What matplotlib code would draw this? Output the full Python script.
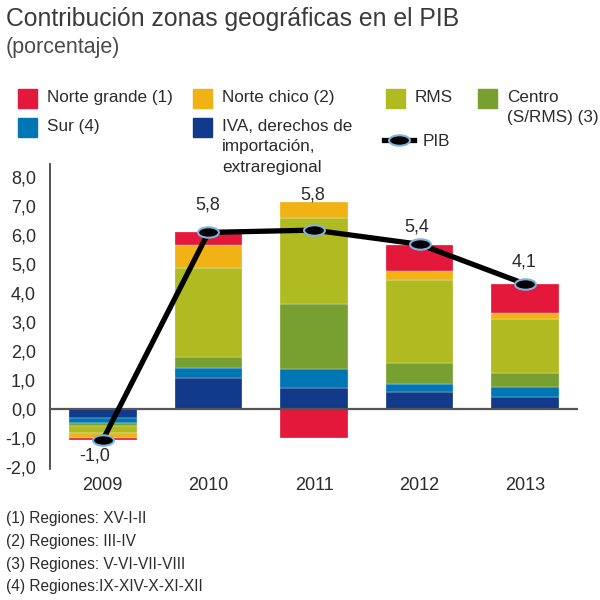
import matplotlib
matplotlib.use("Agg")
import matplotlib.pyplot as plt
import numpy as np
from matplotlib.patches import Rectangle
from matplotlib.path import Path
from matplotlib.lines import Line2D

plt.rcParams["font.family"] = ["Liberation Sans Narrow", "Liberation Sans", "DejaVu Sans"]

# ---- data ----
years = ["2009", "2010", "2011", "2012", "2013"]
iva = [-0.31, 1.08, 0.73, 0.57, 0.42]
sur = [-0.16, 0.34, 0.65, 0.29, 0.35]
centro = [-0.13, 0.38, 2.23, 0.74, 0.46]
rms = [-0.23, 3.07, 2.99, 2.85, 1.86]
norte_chico = [-0.18, 0.79, 0.55, 0.30, 0.22]
norte_grande = [-0.07, 0.43, -0.99, 0.92, 1.00]
pib = [-1.0, 5.8, 5.8, 5.4, 4.1]            # labelled values
pib_line = [-1.07, 6.09, 6.17, 5.68, 4.31]  # where the line is drawn

series = [
    ("IVA", iva, "#123a8a"),
    ("Sur", sur, "#0077b4"),
    ("Centro", centro, "#78a030"),
    ("RMS", rms, "#b0bb22"),
    ("Norte chico", norte_chico, "#f0b214"),
    ("Norte grande", norte_grande, "#e3183a"),
]

TXT = "#2b2b2b"
fig = plt.figure(figsize=(6, 6), dpi=100)
ax = fig.add_axes([50 / 600, 131 / 600, 528 / 600, 305 / 600])
ax.set_facecolor("none")

x = np.arange(len(years))
pos = np.zeros(len(years))
neg = np.zeros(len(years))
for name, vals, col in series:
    v = np.array(vals)
    bottom = np.where(v >= 0, pos, neg)
    ax.bar(x, v, 0.64, bottom=bottom, color=col, edgecolor="white", linewidth=0.2, zorder=2)
    pos = pos + np.where(v >= 0, v, 0)
    neg = neg + np.where(v < 0, v, 0)

ax.axhline(0, color="#555555", lw=1.6, zorder=3)

# ellipse marker
ell = Path.unit_circle()
ell = Path(ell.vertices * np.array([1.0, 0.5]), ell.codes)
ax.plot(x, pib_line, color="black", lw=3.8, zorder=4,
        marker=ell, markersize=15, markerfacecolor="black",
        markeredgecolor="#7fb2e0", markeredgewidth=1.5)

offsets = [(-8, -16), (-1, 27), (-1, 35), (-3, 17), (-1, 22)]
for xi, yi, val, off in zip(x, pib_line, pib, offsets):
    ax.annotate(f"{val:.1f}".replace(".", ","), (xi, yi), xytext=off,
                textcoords="offset pixels", ha="center", va="center",
                fontsize=13, color=TXT, zorder=5)

ax.set_xlim(-0.5, 4.5)
ax.set_ylim(-2.07, 8.45)
ax.set_yticks(np.arange(-2, 9, 1))
ax.set_yticklabels([f"{t:.1f}".replace(".", ",") for t in np.arange(-2, 9, 1)])
ax.set_xticks(x)
ax.set_xticklabels(years)
ax.tick_params(axis="y", length=0, pad=10, labelsize=13, labelcolor=TXT)
ax.tick_params(axis="x", length=0, pad=6, labelsize=13, labelcolor=TXT)
for s in ["top", "right", "bottom"]:
    ax.spines[s].set_visible(False)
ax.spines["left"].set_color("#333333")
ax.spines["left"].set_linewidth(1.2)

# ---- overlay in pixel coords for titles, legend, notes ----
ov = fig.add_axes([0, 0, 1, 1], zorder=-1)
ov.set_xlim(0, 600)
ov.set_ylim(600, 0)
ov.axis("off")

ov.text(6, 19, "Contribución zonas geográficas en el PIB", fontsize=17.8,
        color="#3a3a3a", va="center", ha="left")
ov.text(6, 48, "(porcentaje)", fontsize=15.5, color="#4a4a4a", va="center", ha="left")

legend_items = [
    (18, 89, "#e3183a", "Norte grande (1)"),
    (193, 89, "#f0b214", "Norte chico (2)"),
    (386, 89, "#b0bb22", "RMS"),
    (478, 89, "#78a030", "Centro\n(S/RMS) (3)"),
    (18, 118, "#0077b4", "Sur (4)"),
    (193, 118, "#123a8a", "IVA, derechos de\nimportación,\nextraregional"),
]
for lx, ly, col, lab in legend_items:
    ov.add_patch(Rectangle((lx, ly), 19, 19, color=col))
    ov.text(lx + 29, ly + 1, lab, fontsize=12.3, color=TXT, va="top", ha="left",
            linespacing=1.45)

ov.add_line(Line2D([384, 414], [140, 140], color="black", lw=3.8))
ov.plot([399], [140], marker=ell, markersize=15, color="black",
        markeredgecolor="#7fb2e0", markeredgewidth=1.5)
ov.text(423, 141, "PIB", fontsize=12.3, color=TXT, va="center", ha="left")

notes = ["(1) Regiones: XV-I-II", "(2) Regiones: III-IV",
         "(3) Regiones: V-VI-VII-VIII", "(4) Regiones:IX-XIV-X-XI-XII"]
for i, n in enumerate(notes):
    ov.text(6, 519 + 22.5 * i, n, fontsize=11.2, color=TXT, va="center", ha="left")

fig.savefig("out.png", dpi=100)
